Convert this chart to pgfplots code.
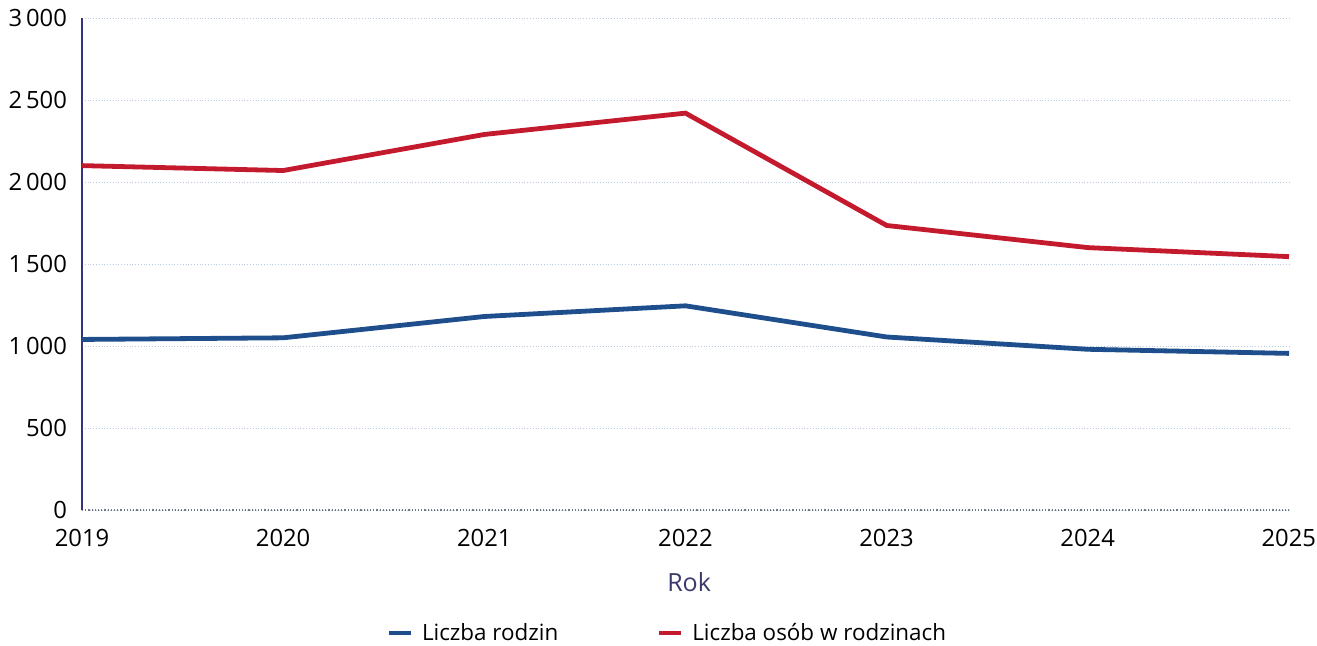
\documentclass[border=0pt]{standalone}
\usepackage{fontspec}
\setmainfont{Open Sans}
\usepackage{pgfplots}
\pgfplotsset{compat=1.18}

\definecolor{rodz}{RGB}{31,78,140}
\definecolor{osob}{RGB}{196,26,46}
\definecolor{gridc}{RGB}{185,202,225}
\definecolor{axisc}{RGB}{52,52,122}
\definecolor{rokc}{RGB}{58,58,110}

\begin{document}
\begin{tikzpicture}
\begin{axis}[
    scale only axis,
    width=603.5pt, height=246pt,
    xmin=2019, xmax=2025,
    ymin=0, ymax=3000,
    xtick={2019,...,2025},
    ytick={0,500,...,3000},
    xticklabel={\pgfmathprintnumber[1000 sep={}]{\tick}},
    /pgf/number format/assume math mode=true,
    /pgf/number format/1000 sep={\,},
    major tick length=0pt,
    axis x line=bottom, axis y line=left,
    axis line style={-},
    x axis line style={densely dotted, color=gridc!60!black, line width=0.6pt},
    y axis line style={color=axisc, line width=0.7pt},
    ymajorgrids,
    grid style={densely dotted, color=gridc, line width=0.5pt},
    tick label style={font=\fontsize{11.9}{14}\selectfont, text=black},
    xticklabel style={yshift=-6pt},
    yticklabel style={xshift=-4pt},
    xlabel={Rok},
    xlabel style={font=\fontsize{12.5}{15}\selectfont, text=rokc, at={(axis description cs:0.503,-0.146)}, anchor=center},
    legend style={at={(axis description cs:0.488,-0.25)}, anchor=center, draw=none,
        font=\fontsize{11.2}{13}\selectfont, legend columns=2,
        /tikz/every even column/.append style={column sep=45pt},
        nodes={inner xsep=4.5pt}},
    legend image code/.code={\draw[#1, line width=2pt] (0pt,0pt) -- (11pt,0pt);},
]
\addplot[rodz, line width=2.4pt] coordinates {
(2019,1040) (2020,1050) (2021,1180) (2022,1245) (2023,1055) (2024,980) (2025,955)
};
\addlegendentry{Liczba rodzin}
\addplot[osob, line width=2.4pt] coordinates {
(2019,2100) (2020,2070) (2021,2290) (2022,2420) (2023,1735) (2024,1600) (2025,1545)
};
\addlegendentry{Liczba osób w rodzinach}
\end{axis}
\pgfresetboundingbox
\path[use as bounding box] (-41pt,-67.5pt) rectangle (617.5pt,255pt);
\end{tikzpicture}
\end{document}
